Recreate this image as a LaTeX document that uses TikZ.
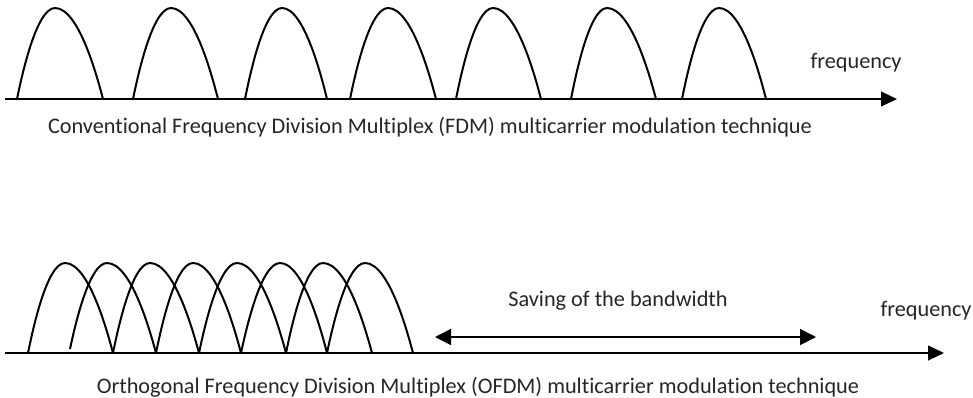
\documentclass[tikz,border=0pt]{standalone}
\usepackage{fontspec}
\setmainfont{Carlito}[Ligatures=NoCommon]
\usetikzlibrary{arrows.meta}

\tikzset{
  hump/.style={black, line width=1.5pt},
  axis/.style={black, line width=1.5pt, -{Triangle[length=12pt,width=11pt]}},
  span/.style={black, line width=1.3pt, {Triangle[length=12pt,width=12pt]}-{Triangle[length=12pt,width=12pt]}},
  lbl/.style={font=\fontsize{16.7}{20}\selectfont, text=black!85, inner sep=0pt}
}

\begin{document}
\begin{tikzpicture}[x=0.75pt, y=-0.75pt]
    \useasboundingbox (0,0) rectangle (973,397);

    % conventional FDM
    \coordinate (fdm0) at (5,99);
    \coordinate (fdm1) at (897,99);
    \draw[axis] (fdm0) -- (fdm1);

    \foreach \a/\p/\b in {17/55/103, 133/171/218, 245/282/327, 350/388/436,
                          456/493/541, 571/607/656, 682/719/766}
    \draw[hump] (\a,99) parabola bend (\p,8) (\b,99);

    \node[lbl] (freq1) at (856,63) {frequency};
    \node[lbl] (cap1) at (430,127) {Conventional Frequency Division Multiplex (FDM) multicarrier modulation technique};

    % OFDM
    \coordinate (ofdm0) at (5,353);
    \coordinate (ofdm1) at (944,353);
    \draw[axis] (ofdm0) -- (ofdm1);

    \foreach \a/\s/\p/\b in {28/353/65/113, 70/349/107/156, 113/353/150/199, 156/353/193/241,
                             199/353/237/286, 241/353/280/327, 286/353/323/372, 327/353/365/413}
    \draw[hump] (\a,\s) parabola bend (\p,263) (\b,353);

    \coordinate (save0) at (435,337);
    \coordinate (save1) at (816,337);
    \draw[span] (save0) -- (save1);

    \node[lbl] (save) at (618,301) {Saving of the bandwidth};
    \node[lbl] (freq2) at (926,311) {frequency};
    \node[lbl] (cap2) at (478,387) {Orthogonal Frequency Division Multiplex (OFDM) multicarrier modulation technique};

  \end{tikzpicture}
\end{document}
